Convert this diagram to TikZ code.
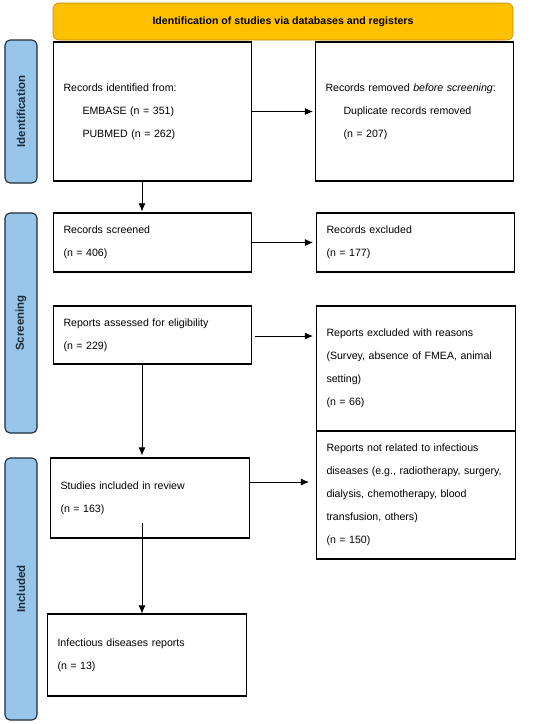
\documentclass[tikz,border=0pt]{standalone}
\usepackage{fontspec}
\setmainfont{Liberation Sans}
\usetikzlibrary{arrows.meta}
\definecolor{bannerfill}{HTML}{FFC000}
\definecolor{bannerline}{HTML}{C08A00}
\definecolor{sidefill}{HTML}{97C6EA}
\definecolor{sideline}{HTML}{1E2A36}
\tikzset{
  box/.style={draw=black, line width=1.1pt, rectangle, align=left, inner xsep=10pt, inner ysep=0pt,
    font=\fontsize{10.6}{23}\selectfont, anchor=center},
  side/.style={draw=sideline, fill=sidefill, text=sideline, line width=1.1pt, rounded corners=5pt, rotate=90,
    font=\fontsize{11.5}{12}\selectfont\bfseries, inner sep=0pt, anchor=center},
  banner/.style={draw=bannerline, fill=bannerfill, line width=0.6pt, rounded corners=6pt,
    font=\fontsize{10.6}{12}\selectfont\bfseries, inner sep=0pt, anchor=center},
  arr/.style={draw=black, line width=0.8pt, -{Latex[length=8pt,width=7pt]}}
}
\begin{document}
\begin{tikzpicture}[x=1pt,y=-1pt]
\useasboundingbox (0,0) rectangle (550,724);
\node[banner, minimum width=460pt, minimum height=37pt] (ban) at (283,21.5) {Identification of studies via databases and registers};
\node[side, minimum width=143pt, minimum height=32pt] (p1) at (21,111.5) {Identification};
\node[side, minimum width=220pt, minimum height=32pt] (p2) at (21,323) {Screening};
\node[side, minimum width=262pt, minimum height=32pt] (p3) at (21,589) {Included};

\node[box, text width=178pt, minimum height=139pt] (b1) at (152.5,111.5) {Records identified from:\\\hspace*{19pt}EMBASE (n = 351)\\\hspace*{19pt}PUBMED (n = 262)};
\node[box, text width=178pt, minimum height=139pt] (b2) at (414.5,111.5) {Records removed \textit{before screening}:\\\hspace*{18pt}Duplicate records removed\\\hspace*{18pt}(n = 207)};
\node[box, text width=178pt, minimum height=59pt] (b3) at (152.5,242.5) {Records screened\\(n = 406)};
\node[box, text width=178pt, minimum height=59pt] (b4) at (415.5,242.5) {Records excluded\\(n = 177)};
\node[box, text width=178pt, minimum height=58pt] (b5) at (152.5,335) {Reports assessed for eligibility\\(n = 229)};
\node[box, text width=179pt, minimum height=125pt] (b6) at (416,368.5) {Reports excluded with reasons\\(Survey, absence of FMEA, animal\\setting)\\(n = 66)};
\node[box, text width=179pt, minimum height=128pt] (b7) at (416,495) {Reports not related to infectious\\diseases (e.g., radiotherapy, surgery,\\dialysis, chemotherapy, blood\\transfusion, others)\\(n = 150)};
\node[box, text width=179pt, minimum height=80pt] (b8) at (150,498) {Studies included in review\\(n = 163)};
\node[box, text width=179pt, minimum height=82pt] (b9) at (147,655) {Infectious diseases reports\\(n = 13)};

\coordinate (xc) at (142,0);
\coordinate (s3) at (252,336);
\coordinate (s4) at (250,482);
\coordinate (s5) at (142,523);

\draw[arr, shorten >=2pt] (b1.east) -- (b2.west);
\draw[arr, shorten >=3pt] (b3.east) -- (b4.west);
\draw[arr, shorten <=3pt, shorten >=3pt] (s3) -- (s3 -| b6.west);
\draw[arr, shorten >=7pt] (s4) -- (s4 -| b7.west);
\draw[arr, shorten >=1pt] (b1.south -| xc) -- (b3.north -| xc);
\draw[arr, shorten >=2pt] (b5.south -| xc) -- (b8.north -| xc);
\draw[arr] (s5) -- (b9.north -| xc);
\end{tikzpicture}
\end{document}
